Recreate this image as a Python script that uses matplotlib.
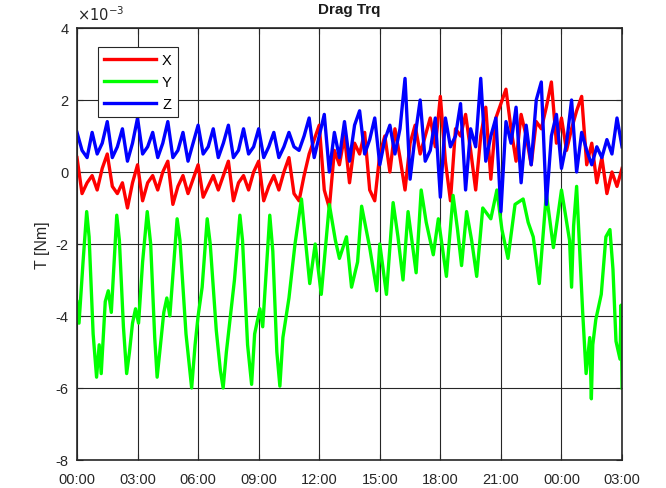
import matplotlib
matplotlib.use("Agg")
import matplotlib.pyplot as plt
from matplotlib.ticker import FuncFormatter

plt.rcParams['font.family'] = ['Liberation Sans', 'DejaVu Sans']
plt.rcParams['axes.unicode_minus'] = False

# ---------------- data (hours since 00:00, torque in Nm) ----------------
x_hours = [0.0, 0.25, 0.5, 0.75, 1.0, 1.25, 1.5, 1.75, 2.0, 2.25, 2.5, 2.75,
           3.0, 3.25, 3.5, 3.75, 4.0, 4.25, 4.5, 4.75, 5.0, 5.25, 5.5, 5.75,
           6.0, 6.25, 6.5, 6.75, 7.0, 7.25, 7.5, 7.75, 8.0, 8.25, 8.5, 8.75,
           9.0, 9.25, 9.5, 9.75, 10.0, 10.25, 10.5, 10.75, 11.0, 11.25, 11.5, 11.75,
           12.0, 12.25, 12.5, 12.75, 13.0, 13.25, 13.5, 13.75, 14.0, 14.25, 14.5, 14.75,
           15.0, 15.25, 15.5, 15.75, 16.0, 16.25, 16.5, 16.75, 17.0, 17.25, 17.5, 17.75,
           18.0, 18.25, 18.5, 18.75, 19.0, 19.25, 19.5, 19.75, 20.0, 20.25, 20.5, 20.75,
           21.0, 21.25, 21.5, 21.75, 22.0, 22.25, 22.5, 22.75, 23.0, 23.25, 23.5, 23.75,
           24.0, 24.25, 24.5, 24.75, 25.0, 25.25, 25.5, 25.75, 26.0, 26.25, 26.5, 26.75, 27.0]

trq_x = [0.4, -0.6, -0.3, -0.1, -0.5, 0.1, 0.5, -0.4, -0.6, -0.3, -1.0, -0.3,
         0.2, -0.8, -0.3, -0.1, -0.5, 0.0, 0.3, -0.9, -0.4, -0.1, -0.6, -0.2,
         0.2, -0.7, -0.4, -0.1, -0.5, -0.1, 0.3, -0.8, -0.3, -0.1, -0.5, 0.0,
         0.3, -0.8, -0.4, -0.1, -0.5, 0.0, 0.4, -0.6, -0.8, -0.1, 0.5, 0.9,
         1.3, -0.5, -1.0, 0.6, 0.2, 1.0, -0.3, 0.8, 0.5, 1.1, -0.5, -0.8,
         0.5, 1.0, 0.0, 1.2, 0.4, -0.5, 0.8, 1.3, 0.5, 1.0, 1.5, 0.7,
         2.1, 0.3, -0.8, 1.2, 1.0, 1.6, 0.6, -0.5, 1.0, 1.8, -0.2, 1.5,
         1.9, 2.3, 1.2, 0.3, 1.6, 1.0, 0.2, 1.4, 1.2, 1.8, 2.5, 0.8,
         1.5, 0.6, 1.2, 1.7, 2.1, 0.2, 0.8, -0.3, 0.4, -0.6, 0.0, -0.4, 0.1]

trq_z = [1.1, 0.6, 0.4, 1.1, 0.5, 0.8, 1.4, 0.4, 0.7, 1.2, 0.3, 0.8,
         1.5, 0.5, 0.7, 1.1, 0.4, 0.8, 1.4, 0.4, 0.6, 1.1, 0.3, 0.8,
         1.3, 0.5, 0.7, 1.2, 0.4, 0.8, 1.3, 0.4, 0.6, 1.2, 0.5, 0.7,
         1.2, 0.4, 0.7, 1.1, 0.4, 0.7, 1.1, 0.7, 0.6, 1.0, 1.5, 0.4,
         1.0, 1.6, 0.0, 1.1, 0.4, 1.4, 0.3, 1.3, 1.7, 0.5, 0.9, 1.5,
         0.2, 0.9, 1.3, 0.5, 1.2, 2.6, -0.2, 1.0, 2.0, 0.3, 0.6, 1.5,
         -0.7, 1.5, 0.7, 1.0, 1.9, -0.5, 1.2, 0.7, 2.6, 0.3, 1.0, 1.5,
         -1.1, 1.4, 0.8, 1.8, -0.3, 1.3, 0.2, 2.0, 2.5, -0.9, 1.0, 1.6,
         0.1, 0.8, 2.0, 0.0, 1.1, 0.6, 0.2, 0.7, 0.4, 0.9, 0.5, 1.5, 0.7]

y_hours = [0.0, 0.1, 0.3, 0.48, 0.6, 0.8, 0.97, 1.1, 1.2, 1.4, 1.55, 1.7,
           1.97, 2.1, 2.3, 2.46, 2.6, 2.75, 2.9, 3.05, 3.25, 3.48, 3.65, 3.85,
           3.97, 4.1, 4.3, 4.45, 4.6, 4.96, 5.1, 5.4, 5.55, 5.68, 5.85, 6.0,
           6.2, 6.45, 6.6, 6.9, 7.1, 7.24, 7.4, 7.6, 7.8, 8.07, 8.2, 8.45,
           8.65, 8.8, 9.06, 9.2, 9.55, 9.7, 9.9, 10.05, 10.2, 10.5, 10.8, 11.12,
           11.3, 11.53, 11.8, 12.1, 12.5, 12.8, 13.0, 13.35, 13.6, 13.9, 14.1, 14.5,
           14.85, 15.0, 15.33, 15.66, 15.9, 16.15, 16.4, 16.8, 17.05, 17.3, 17.65, 17.9,
           18.3, 18.63, 18.85, 19.05, 19.3, 19.55, 19.8, 20.1, 20.5, 20.8, 21.05, 21.35,
           21.7, 22.1, 22.35, 22.6, 22.9, 23.25, 23.6, 24.0, 24.4, 24.5, 24.6, 24.75,
           25.05, 25.22, 25.4, 25.48, 25.55, 25.7, 25.97, 26.2, 26.4, 26.55, 26.7, 26.9,
           26.95, 27.0]

trq_y = [-3.6, -4.2, -2.5, -1.1, -1.8, -4.5, -5.7, -4.8, -5.6, -3.6, -3.3, -3.9,
         -1.2, -1.9, -4.3, -5.6, -5.0, -4.2, -3.8, -4.2, -2.5, -1.1, -2.0, -4.6,
         -5.7, -5.0, -3.9, -3.5, -4.0, -1.3, -1.9, -4.5, -5.3, -6.0, -4.8, -4.0,
         -3.2, -1.3, -2.0, -4.4, -5.5, -6.0, -5.0, -4.0, -3.0, -1.2, -1.9, -4.8,
         -5.9, -4.5, -3.8, -4.3, -1.2, -2.2, -5.0, -5.95, -4.6, -3.5, -2.0, -0.75,
         -1.8, -3.1, -2.0, -3.4, -0.9, -1.9, -2.4, -1.8, -3.2, -2.5, -0.95, -2.1,
         -3.3, -2.0, -3.4, -0.85, -1.8, -3.0, -1.1, -2.8, -0.5, -1.4, -2.3, -1.3,
         -2.9, -0.65, -1.6, -2.6, -1.1, -1.9, -2.9, -1.0, -1.3, -0.5, -1.6, -2.4,
         -0.9, -0.75, -1.4, -1.8, -3.1, -0.6, -2.1, -0.5, -1.9, -3.2, -1.5, -0.4,
         -3.9, -5.6, -4.6, -6.3, -4.8, -4.1, -3.4, -1.8, -1.6, -2.7, -4.7, -5.2,
         -3.7, -6.0]

tick_hours = [0, 3, 6, 9, 12, 15, 18, 21, 24, 27]
tick_labels = ['00:00', '03:00', '06:00', '09:00', '12:00', '15:00',
               '18:00', '21:00', '00:00', '03:00']

# ---------------- plot ----------------
fig = plt.figure(figsize=(6.66, 4.89), dpi=100)
ax = fig.add_axes([0.1156, 0.0573, 0.8184, 0.8834])

lw = 2.4
ax.plot(x_hours, [v * 1e-3 for v in trq_x], color='#ff0000', lw=lw, label='X')
ax.plot(y_hours, [v * 1e-3 for v in trq_y], color='#00ff00', lw=lw, label='Y')
ax.plot(x_hours, [v * 1e-3 for v in trq_z], color='#0000ff', lw=lw, label='Z')

ax.set_xlim(0, 27)
ax.set_ylim(-8e-3, 4e-3)
ax.set_xticks(tick_hours)
ax.set_xticklabels(tick_labels)
ax.set_yticks([-8e-3, -6e-3, -4e-3, -2e-3, 0, 2e-3, 4e-3])
ax.yaxis.set_major_formatter(FuncFormatter(lambda v, p: '%g' % round(v * 1e3, 6)))
# exponent label like MATLAB
ax.text(0.0, 1.012, r'$\times 10^{-3}$', transform=ax.transAxes, fontsize=10.5,
        color='#262626', ha='left', va='bottom')

ax.grid(True, color='#262626', lw=0.8)
ax.tick_params(direction='in', top=True, right=True, labelsize=10.5,
               colors='#262626', length=4, width=0.8)
ax.tick_params(axis='x', pad=9)
ax.tick_params(axis='y', pad=6)
for s in ax.spines.values():
    s.set_color('#262626')
    s.set_linewidth(1.2)

ax.set_title('Drag Trq', fontsize=11, fontweight='bold', color='#1a1a1a', pad=11)
ax.set_ylabel('T [Nm]', fontsize=11.5, color='#262626', labelpad=4)

leg = ax.legend(loc='upper left', bbox_to_anchor=(0.025, 0.972), fontsize=10.5,
                handlelength=3.6, handletextpad=0.4, borderpad=0.4,
                labelspacing=0.55, fancybox=False, framealpha=1)
leg.get_frame().set_edgecolor('#262626')
leg.get_frame().set_linewidth(0.8)

fig.savefig('out.png', dpi=100)
